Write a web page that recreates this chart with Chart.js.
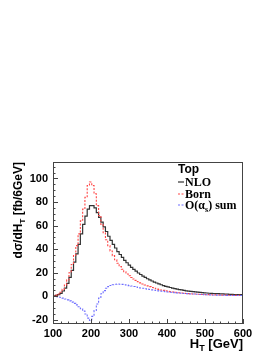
<!DOCTYPE html>
<html>
<head>
<meta charset="utf-8">
<script src="https://cdn.jsdelivr.net/npm/chart.js@4"></script>
<style>
  html, body { margin: 0; padding: 0; background: #fff; }
  #wrap { width: 274px; height: 355px; }
</style>
</head>
<body>
<div id="wrap"><canvas id="chart" width="274" height="355"></canvas></div>
<script>
// HT histogram, 6 GeV bins starting at 100 GeV
const HT_MIN = 100;
const BIN = 6;

const NLO = [
    0.2, 0.4, 0.8, 1.4, 2.5, 4.5, 7, 11, 16, 22,
    29, 36, 44, 53, 61, 68, 74, 77, 77, 75,
    71, 67, 63, 59, 55, 51, 47.5, 44, 41, 38,
    35.5, 33, 30.5, 28.5, 26.5, 24.6, 22.9, 21.3, 19.8, 18.5,
    17.2, 16.0, 14.9, 13.9, 13.0, 12.1, 11.3, 10.5, 9.8, 9.1,
    8.5, 8.0, 7.5, 7.0, 6.5, 6.1, 5.7, 5.4, 5.0, 4.7,
    4.4, 4.2, 3.9, 3.7, 3.5, 3.3, 3.1, 2.9, 2.8, 2.6,
    2.5, 2.4, 2.3, 2.2, 2.1, 2.0, 1.9, 1.8, 1.7, 1.6,
    1.55, 1.5, 1.45, 1.4
];

const BORN = [
    0.2, 0.5, 1.0, 2.0, 3.5, 6, 9.5, 14, 20, 27,
    35, 43, 53, 64, 74, 84, 94, 97, 94, 87,
    77, 68.5, 61, 54, 48, 43, 38.5, 34.5, 31, 28,
    25.2, 23, 20.8, 19, 17.4, 16, 14.7, 13.5, 12.4, 11.4,
    10.5, 9.6, 8.9, 8.2, 7.5, 6.9, 6.4, 5.9, 5.4, 5.0,
    4.6, 4.3, 4.0, 3.7, 3.4, 3.2, 3.0, 2.8, 2.6, 2.4,
    2.3, 2.2, 2.0, 1.9, 1.8, 1.7, 1.6, 1.5, 1.45, 1.4,
    1.3, 1.25, 1.2, 1.15, 1.1, 1.05, 1.0, 0.95, 0.9, 0.85,
    0.82, 0.8, 0.78, 0.76
];

const OAS_SUM = [
    0, -0.1, -0.3, -0.6, -1.0, -1.5, -2.3, -3.0, -3.9, -4.9,
    -6, -7.3, -8.8, -10.5, -12.5, -15, -18.5, -20.5, -17, -12,
    -6.5, -1.5, 2.2, 4.8, 6.8, 8.2, 9.2, 9.8, 10.2, 10.4,
    10.3, 10.1, 9.8, 9.5, 9.1, 8.7, 8.3, 7.9, 7.5, 7.1,
    6.8, 6.4, 6.1, 5.8, 5.5, 5.2, 4.9, 4.6, 4.4, 4.2,
    3.9, 3.7, 3.5, 3.3, 3.1, 2.9, 2.7, 2.6, 2.4, 2.3,
    2.1, 2.0, 1.9, 1.8, 1.7, 1.6, 1.5, 1.4, 1.3, 1.25,
    1.2, 1.1, 1.05, 1.0, 0.95, 0.9, 0.85, 0.8, 0.75, 0.72,
    0.7, 0.68, 0.66, 0.64
];

const X_TICKS = [100, 200, 300, 400, 500, 600];
const Y_TICKS = [-20, 0, 20, 40, 60, 80, 100];
const X_MINOR_STEP = 20;
const Y_MINOR_STEP = 5;

const SANS = "'Liberation Sans', Arial, sans-serif";
const SERIF = "'Liberation Serif', 'Times New Roman', serif";

// histogram bins -> step points (closing edge repeats last value)
function toSteps(vals) {
    const pts = vals.map((v, i) => ({ x: HT_MIN + i * BIN, y: v }));
    pts.push({ x: HT_MIN + vals.length * BIN, y: vals[vals.length - 1] });
    return pts;
}

// draws text pieces with optional subscripts, returns width
function drawRich(ctx, parts, x, y, measureOnly) {
    let w = 0;
    for (const p of parts) {
        ctx.font = p.font;
        const pw = ctx.measureText(p.t).width;
        if (!measureOnly) ctx.fillText(p.t, x + w, y + (p.dy || 0));
        w += pw;
    }
    return w;
}

const rootFrame = {
    id: "rootFrame",
    afterDraw(chart) {
        const ctx = chart.ctx;
        const a = chart.chartArea;
        const xs = chart.scales.x, ys = chart.scales.y;
        ctx.save();

        // frame
        ctx.strokeStyle = "#444";
        ctx.lineWidth = 1;
        ctx.setLineDash([]);
        ctx.strokeRect(a.left + 0.5, a.top + 0.5, a.right - a.left - 1, a.bottom - a.top - 1);

        // inside ticks
        ctx.beginPath();
        for (let v = xs.min; v <= xs.max + 0.01; v += X_MINOR_STEP) {
            const px = Math.round(xs.getPixelForValue(v)) + 0.5;
            const len = X_TICKS.includes(v) ? 5 : 2.5;
            ctx.moveTo(px, a.bottom);
            ctx.lineTo(px, a.bottom - len);
        }
        for (let v = -20; v <= ys.max; v += Y_MINOR_STEP) {
            const py = Math.round(ys.getPixelForValue(v)) + 0.5;
            const len = Y_TICKS.includes(v) ? 5 : 2.5;
            ctx.moveTo(a.left, py);
            ctx.lineTo(a.left + len, py);
        }
        ctx.stroke();

        ctx.fillStyle = "#000";
        ctx.textBaseline = "alphabetic";
        ctx.textAlign = "left";

        // x title
        const xParts = [
            { t: "H", font: "bold 13px " + SANS },
            { t: "T", font: "bold 9px " + SANS, dy: 3 },
            { t: " [GeV]", font: "bold 13px " + SANS }
        ];
        const xw = drawRich(ctx, xParts, 0, 0, true);
        drawRich(ctx, xParts, a.right - xw, 348);

        // y title (rotated)
        const yParts = [
            { t: "d\u03c3/dH", font: "bold 12px " + SANS },
            { t: "T", font: "bold 8px " + SANS, dy: 3 },
            { t: " [fb/6GeV]", font: "bold 12px " + SANS }
        ];
        const yw = drawRich(ctx, yParts, 0, 0, true);
        ctx.save();
        ctx.translate(22, a.top);
        ctx.rotate(-Math.PI / 2);
        drawRich(ctx, yParts, -yw, 0);
        ctx.restore();

        // legend
        const lx = 178;
        ctx.font = "bold 12px " + SANS;
        ctx.fillText("Top", lx, 173);
        const rows = [173 + 13, 173 + 25, 173 + 36];
        chart.data.datasets.forEach((ds, i) => {
            const y = rows[i];
            ctx.strokeStyle = ds.borderColor;
            ctx.lineWidth = ds.borderWidth;
            ctx.setLineDash(ds.borderDash || []);
            ctx.beginPath();
            ctx.moveTo(lx, y - 4);
            ctx.lineTo(lx + 6, y - 4);
            ctx.stroke();
            ctx.setLineDash([]);
            ctx.fillStyle = "#000";
            drawRich(ctx, ds.legendParts, lx + 7, y);
        });

        ctx.restore();
    }
};

const serifB = "bold 12px " + SERIF;

new Chart(document.getElementById("chart"), {
    type: "line",
    data: {
        datasets: [
            {
                label: "NLO",
                legendParts: [{ t: "NLO", font: serifB }],
                data: toSteps(NLO),
                borderColor: "#333",
                borderWidth: 1.2,
                order: 3
            },
            {
                label: "Born",
                legendParts: [{ t: "Born", font: serifB }],
                data: toSteps(BORN),
                borderColor: "rgb(255,70,70)",
                borderWidth: 1.1,
                borderDash: [2, 1.5],
                order: 2
            },
            {
                label: "O(\u03b1s) sum",
                legendParts: [
                    { t: "O(\u03b1", font: serifB },
                    { t: "s", font: "bold 8px " + SERIF, dy: 3 },
                    { t: ") sum", font: serifB }
                ],
                data: toSteps(OAS_SUM),
                borderColor: "rgb(110,110,255)",
                borderWidth: 1.1,
                borderDash: [2, 1.5],
                order: 1
            }
        ]
    },
    options: {
        responsive: false,
        animation: false,
        devicePixelRatio: 1,
        layout: { padding: { top: 162, right: 31, left: 0, bottom: 0 } },
        elements: {
            point: { radius: 0 },
            line: { stepped: "after", fill: false, tension: 0 }
        },
        plugins: {
            legend: { display: false },
            title: { display: false },
            tooltip: { enabled: false }
        },
        scales: {
            x: {
                type: "linear",
                min: 100,
                max: 600,
                afterBuildTicks: s => { s.ticks = X_TICKS.map(v => ({ value: v })); },
                afterFit: s => { s.height = 31; },
                grid: { display: false, drawTicks: false },
                border: { display: false },
                ticks: {
                    color: "#000",
                    padding: 3,
                    maxRotation: 0,
                    autoSkip: false,
                    font: { family: SANS, size: 11, weight: "bold" }
                }
            },
            y: {
                type: "linear",
                min: -23.5,
                max: 114,
                afterBuildTicks: s => { s.ticks = Y_TICKS.map(v => ({ value: v })); },
                afterFit: s => { s.width = 53; },
                grid: { display: false, drawTicks: false },
                border: { display: false },
                ticks: {
                    color: "#000",
                    padding: 5,
                    font: { family: SANS, size: 11, weight: "bold" }
                }
            }
        }
    },
    plugins: [rootFrame]
});
</script>
</body>
</html>
